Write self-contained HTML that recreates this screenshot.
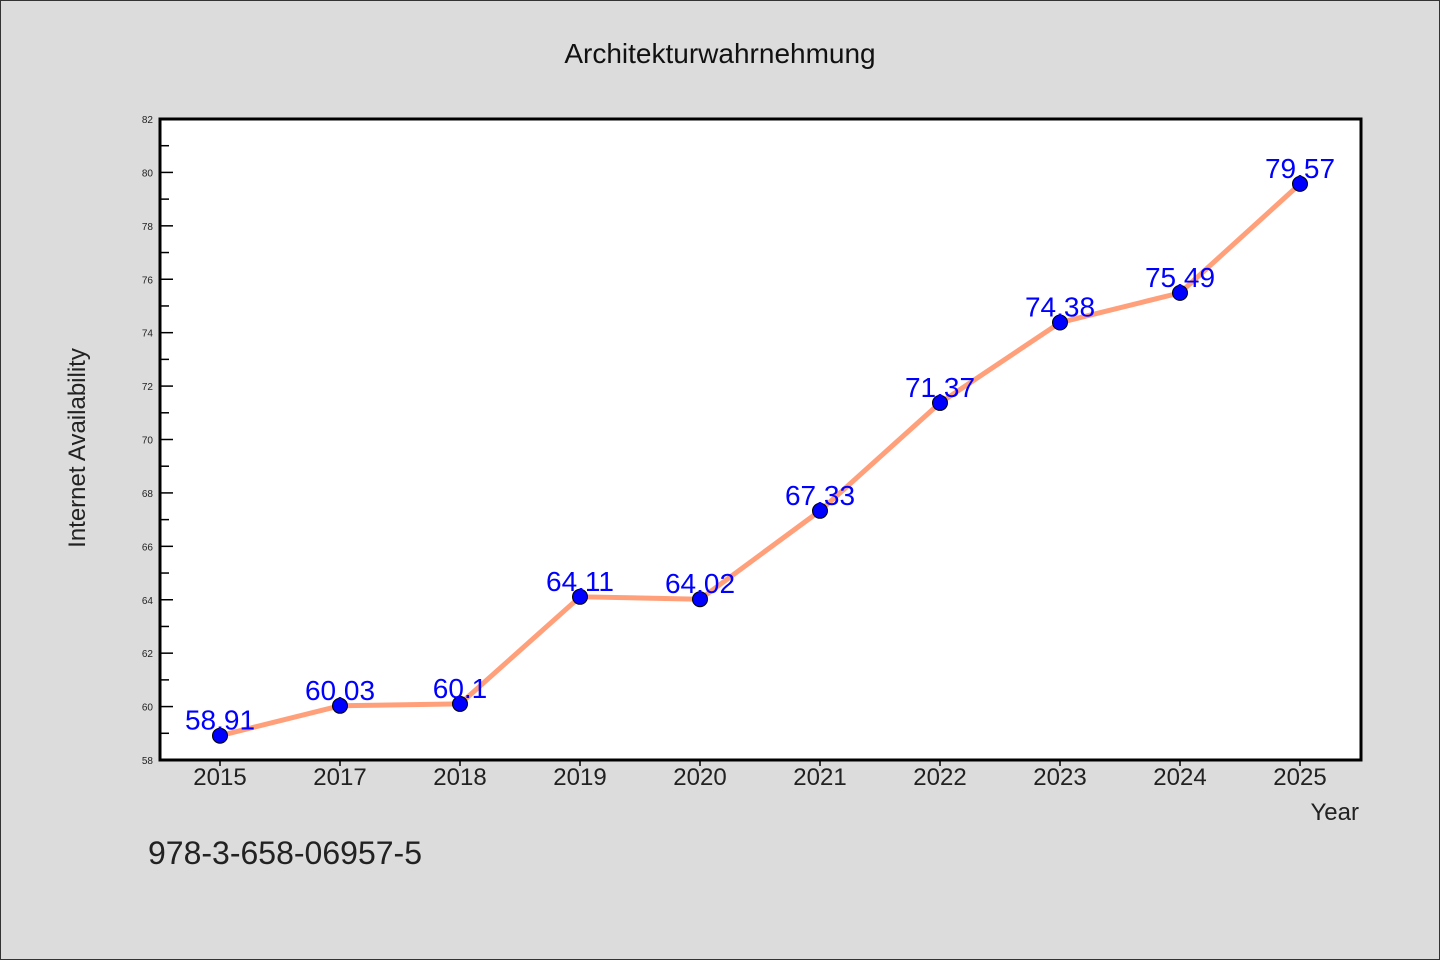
<!DOCTYPE html>
<html><head><meta charset="utf-8"><style>
html,body{margin:0;padding:0;background:#dcdcdc}
svg{display:block;font-family:"WenQuanYi Zen Hei","Liberation Sans",sans-serif}
</style></head><body>
<svg id="c" width="1440" height="960" xmlns="http://www.w3.org/2000/svg">
<rect x="0.5" y="0.5" width="1439" height="959" fill="#dcdcdc" stroke="#333"/>
<text x="720" y="63" text-anchor="middle" font-size="28" fill="#111">Architekturwahrnehmung</text>
<rect x="160" y="119" width="1201" height="641" fill="#fff"/>
<g id="yaxis"></g>
<g id="xaxis"></g>
<g id="series"></g>
<rect x="160" y="119" width="1201" height="641" fill="none" stroke="#000" stroke-width="3"/>
<text x="85" y="448" transform="rotate(-90 85 448)" text-anchor="middle" font-size="24" fill="#222">Internet Availability</text>
<text x="1359" y="820" text-anchor="end" font-size="24" fill="#222">Year</text>
<text x="148" y="864" font-size="32" fill="#222">978-3-658-06957-5</text>
</svg>
<script>
const categories=["2015","2017","2018","2019","2020","2021","2022","2023","2024","2025"];
const values=[58.91,60.03,60.1,64.11,64.02,67.33,71.37,74.38,75.49,79.57];
const labels=["58.91","60.03","60.1","64.11","64.02","67.33","71.37","74.38","75.49","79.57"];
const yTicks=[58,60,62,64,66,68,70,72,74,76,78,80,82];
const NS="http://www.w3.org/2000/svg";
const L=160,R=1361,T=119,B=760,yMin=58,yMax=82;
function xs(i){return 220+i*(1300-220)/(categories.length-1);}
function ys(v){return B-(v-yMin)/(yMax-yMin)*(B-T);}
function mk(tag,attrs,parent,text){const e=document.createElementNS(NS,tag);for(const k in attrs)e.setAttribute(k,attrs[k]);if(text!=null)e.textContent=text;parent.appendChild(e);return e;}
const ya=document.getElementById('yaxis'),xa=document.getElementById('xaxis'),sg=document.getElementById('series');
yTicks.forEach((t,i)=>{
 const y=ys(t);
 const ln=mk('line',{x1:L,x2:L+13,y1:y,y2:y,stroke:'#000','stroke-width':1.5},ya);
 
 
 const tx=mk('text',{x:153,y:y+4,'text-anchor':'end','font-size':10,fill:'#222'},ya,String(t));
 
 
 if(i<yTicks.length-1){const ym=ys(t+1);
  const mn=mk('line',{x1:L,x2:L+9,y1:ym,y2:ym,stroke:'#000','stroke-width':1.5},ya);
  
  }
});
categories.forEach((c,i)=>{
 const x=xs(i);
 const ln=mk('line',{x1:x,x2:x,y1:B,y2:B+6,stroke:'#000','stroke-width':1.5},xa);
 
 
 const tx=mk('text',{x:x,y:B+25,'text-anchor':'middle','font-size':24,fill:'#222'},xa,c);
 
 
});
const pts=values.map((v,i)=>xs(i)+','+ys(v)).join(' ');
const pl=mk('polyline',{points:pts,fill:'none',stroke:'#FFA07A','stroke-width':5,'stroke-linejoin':'round'},sg);


values.forEach((v,i)=>{
 const c=mk('circle',{cx:xs(i),cy:ys(v),r:7.5,fill:'#0000ff',stroke:'#000','stroke-width':1},sg);
 
 
});
values.forEach((v,i)=>{
 const t=mk('text',{x:xs(i),y:ys(v)-6,'text-anchor':'middle','font-size':28,fill:'#0000ff'},sg,labels[i]);
 
 
});
</script>
</body></html>
